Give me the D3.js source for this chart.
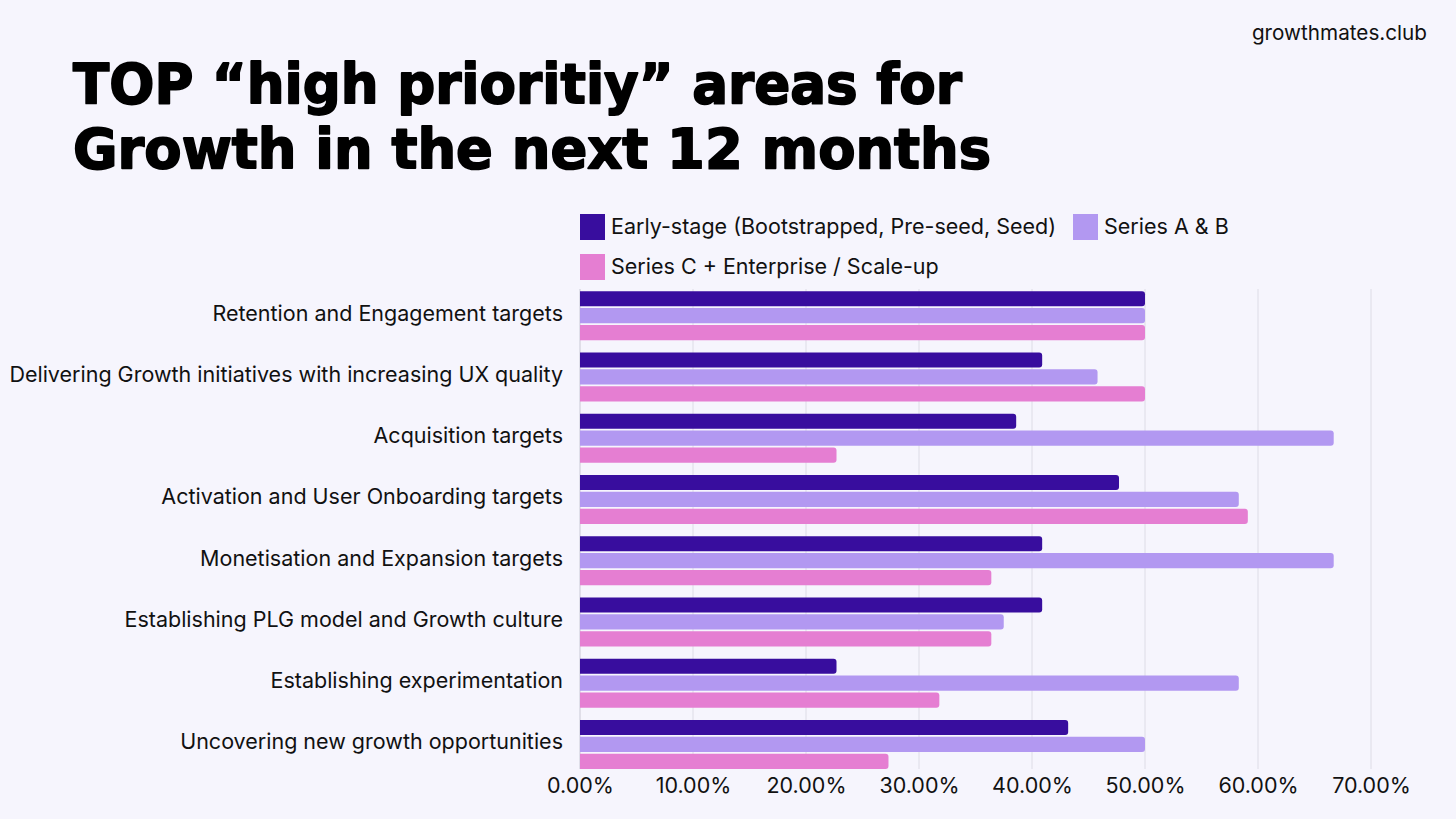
<!DOCTYPE html>
<html><head><meta charset="utf-8">
<script src="https://cdn.jsdelivr.net/npm/d3@7"></script>
<style>
html,body{margin:0;padding:0;background:#f6f5fd;}
svg{display:block;}
</style></head>
<body>
<svg id="chart" width="1456" height="819"></svg>
<script>
const categories = [
  "Retention and Engagement targets",
  "Delivering Growth initiatives with increasing UX quality",
  "Acquisition targets",
  "Activation and User Onboarding targets",
  "Monetisation and Expansion targets",
  "Establishing PLG model and Growth culture",
  "Establishing experimentation",
  "Uncovering new growth opportunities"
];
const seriesNames = ["Early-stage (Bootstrapped, Pre-seed, Seed)", "Series A & B", "Series C + Enterprise / Scale-up"];
const earlyStage = [50.0, 40.9, 38.6, 47.7, 40.9, 40.9, 22.7, 43.2];
const seriesAB   = [50.0, 45.8, 66.7, 58.3, 66.7, 37.5, 58.3, 50.0];
const seriesC    = [50.0, 50.0, 22.7, 59.1, 36.4, 36.4, 31.8, 27.3];
const xTicks = [0, 10, 20, 30, 40, 50, 60, 70];
const colors = ["#380d9e", "#b298f1", "#e57ed2"];

const svg = d3.select("#chart");
svg.append("rect").attr("width",1456).attr("height",819).attr("fill","#f6f5fd");

// title
const title = svg.append("g").attr("font-family","'DejaVu Sans', sans-serif").attr("font-weight","bold")
  .attr("fill","#000").attr("stroke","#000").attr("stroke-width",1.8).attr("stroke-linejoin","round");
title.append("text").attr("x",73).attr("y",103).attr("font-size",56).attr("textLength",889).attr("lengthAdjust","spacingAndGlyphs").text("TOP \u201chigh prioritiy\u201d areas for");
title.append("text").attr("x",73).attr("y",168).attr("font-size",56).attr("textLength",918).attr("lengthAdjust","spacingAndGlyphs").text("Growth in the next 12 months");

svg.append("text").attr("x",1427).attr("y",40).attr("text-anchor","end")
  .attr("font-family","Inter, sans-serif").attr("font-size",20.7).attr("fill","#111").text("growthmates.club");

const x = d3.scaleLinear().domain([0,70]).range([580,1371]);
const y = d3.scaleBand().domain(categories).range([285,775]).paddingInner(0.2).paddingOuter(0.1);
const ySub = d3.scaleBand().domain([0,1,2]).range([0,y.bandwidth()]).paddingInner(0.1);

// grid
svg.append("g").selectAll("line").data(xTicks).join("line")
  .attr("x1",d=>x(d)).attr("x2",d=>x(d)).attr("y1",289).attr("y2",769)
  .attr("stroke",d=>d===0?"#c9c8d4":"#dddce6").attr("stroke-width",1);

// bars
const data = [earlyStage, seriesAB, seriesC];
const groups = svg.append("g").selectAll("g").data(categories).join("g")
  .attr("transform",d=>`translate(0,${y(d)})`);
groups.selectAll("path").data((d,i)=>data.map((s,k)=>({k, v:s[i]}))).join("path")
  .attr("fill",d=>colors[d.k])
  .attr("d",d=>{
    const x0 = x(0), x1 = x(d.v), y0 = ySub(d.k), h = ySub.bandwidth(), r = 3;
    return `M${x0},${y0}H${x1-r}Q${x1},${y0} ${x1},${y0+r}V${y0+h-r}Q${x1},${y0+h} ${x1-r},${y0+h}H${x0}Z`;
  });

// category labels
const yAxis = d3.axisLeft(y).tickSize(0).tickPadding(17);
const ya = svg.append("g").attr("transform",`translate(${x(0)},-2)`).call(yAxis);
ya.select(".domain").remove();
ya.selectAll("text").attr("font-family","Inter, sans-serif").attr("font-size",21.5).attr("fill","#111");

// x axis
const xAxis = d3.axisBottom(x).tickValues(xTicks).tickSize(0).tickPadding(9).tickFormat(d=>d.toFixed(2)+"%");
const xa = svg.append("g").attr("transform","translate(0,769)").call(xAxis);
xa.select(".domain").remove();
xa.selectAll("text").attr("font-family","Inter, sans-serif").attr("font-size",21.5).attr("fill","#111");

// legend
const legendPos = [[580,214],[1073,214],[580,254]];
const lg = svg.append("g").selectAll("g").data(seriesNames).join("g")
  .attr("transform",(d,i)=>`translate(${legendPos[i][0]},${legendPos[i][1]})`);
lg.append("rect").attr("width",25).attr("height",26).attr("fill",(d,i)=>colors[i]);
lg.append("text").attr("x",31).attr("y",20).attr("font-family","Inter, sans-serif").attr("font-size",21.5).attr("fill","#111").text(d=>d);
</script>
</body></html>
